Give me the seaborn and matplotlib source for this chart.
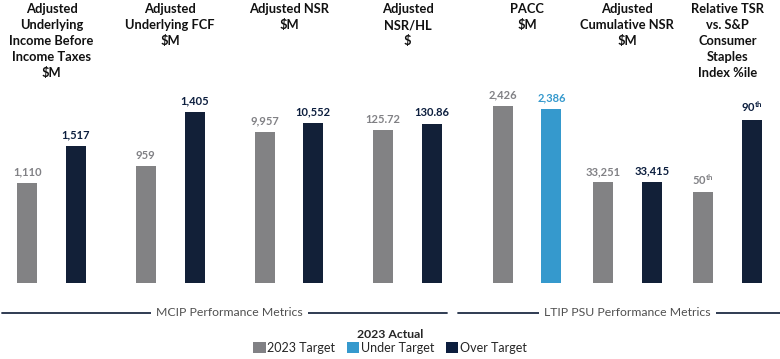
import pandas as pd
import matplotlib.pyplot as plt
import seaborn as sns
from matplotlib.patches import Patch

# chart data
metrics = [
    "Adjusted\nUnderlying\nIncome Before\nIncome Taxes\n\\$M",
    "Adjusted\nUnderlying FCF\n\\$M",
    "Adjusted NSR\n\\$M",
    "Adjusted\nNSR/HL\n\\$",
    "PACC\n\\$M",
    "Adjusted\nCumulative NSR\n\\$M",
    "Relative TSR\nvs. S&P\nConsumer\nStaples\nIndex %ile",
]
sections = ["MCIP", "MCIP", "MCIP", "MCIP", "LTIP", "LTIP", "LTIP"]
target_2023 = [1110, 959, 9957, 125.72, 2426, 33251, 50]
actual_2023 = [1517, 1405, 10552, 130.86, 2386, 33415, 90]
target_labels = ["1,110", "959", "9,957", "125.72", "2,426", "33,251", r"50$^{\mathbf{th}}$"]
actual_labels = ["1,517", "1,405", "10,552", "130.86", "2,386", "33,415", r"90$^{\mathbf{th}}$"]
section_names = {"MCIP": "MCIP Performance Metrics", "LTIP": "LTIP PSU Performance Metrics"}

# each metric is drawn on its own scale: pixel height of the taller bar
group_peak_px = [137, 171, 160, 159, 177, 101, 163]

GRAY = "#818185"
BLUE = "#3599cd"
NAVY = "#0c1e3e"
TEXT_GRAY = "#505050"

sns.set_style("white")
plt.rcParams["font.family"] = ["Lato", "DejaVu Sans"]
plt.rcParams["mathtext.fontset"] = "custom"
plt.rcParams["mathtext.rm"] = "Lato"
plt.rcParams["mathtext.bf"] = "Lato:bold"

rows = []
for i, m in enumerate(metrics):
    top = max(target_2023[i], actual_2023[i])
    status = "Under Target" if actual_2023[i] < target_2023[i] else "Over Target"
    for series, val, lab in [("Target", target_2023[i], target_labels[i]),
                             ("Actual", actual_2023[i], actual_labels[i])]:
        rows.append({"metric": m, "section": sections[i], "series": series,
                     "value": val, "label": lab, "status": status,
                     "height": val / top * group_peak_px[i]})
df = pd.DataFrame(rows)

W, H = 780, 359
fig = plt.figure(figsize=(W / 100, H / 100), dpi=100)
base_px = 283
# section layout: axes pixel span, first group center, group pitch
layout = {
    "MCIP": dict(left=2, right=447, first=51.5, pitch=118.7),
    "LTIP": dict(left=458, right=780, first=527, pitch=100.3),
}
bar_px, offset_px = 20, 48.7

for sec, lay in layout.items():
    ax = fig.add_axes([lay["left"] / W, (H - base_px) / H,
                       (lay["right"] - lay["left"]) / W, base_px / H])
    sub = df[df["section"] == sec]
    order = list(dict.fromkeys(sub["metric"]))
    pitch = lay["pitch"]
    w = 2 * offset_px / pitch
    gap = 1 - (bar_px / pitch) / (w / 2)
    sns.barplot(data=sub, x="metric", y="height", hue="series", order=order,
                hue_order=["Target", "Actual"], palette={"Target": GRAY, "Actual": NAVY},
                width=w, gap=gap, linewidth=0, legend=False, ax=ax)

    tgt = sub[sub["series"] == "Target"]
    act = sub[sub["series"] == "Actual"]
    ax.bar_label(ax.containers[0], labels=list(tgt["label"]), padding=4,
                 color=GRAY, fontsize=8, fontweight="bold")
    texts = ax.bar_label(ax.containers[1], labels=list(act["label"]), padding=4,
                         color=NAVY, fontsize=8, fontweight="bold")
    for bar, t, st in zip(ax.containers[1], texts, act["status"]):
        if st == "Under Target":
            bar.set_facecolor(BLUE)
            t.set_color(BLUE)

    for i, m in enumerate(order):
        ax.text(i, base_px - 3, m, ha="center", va="top", fontsize=9.3,
                fontweight="bold", color="#111111", linespacing=1.4)

    x0 = (lay["left"] - lay["first"]) / pitch
    x1 = (lay["right"] - lay["first"]) / pitch
    ax.set_xlim(x0, x1)
    ax.set_ylim(0, base_px)
    ax.plot([x0, x1], [-30, -30], color="#1f2c44", lw=1.3, clip_on=False)
    ax.text((len(order) - 1) / 2, -30, section_names[sec], ha="center", va="center",
            fontsize=8.8, color=TEXT_GRAY,
            bbox=dict(facecolor="white", edgecolor="none", pad=3.5))
    ax.set_axis_off()

handles = [Patch(facecolor=c, edgecolor="none") for c in (GRAY, BLUE, NAVY)]
fig.legend(handles, ["2023 Target", "Under Target", "Over Target"], title="2023 Actual",
           loc="lower center", bbox_to_anchor=(0.5, -0.01), ncol=3, frameon=False,
           fontsize=9, title_fontproperties={"weight": "bold", "size": 8.8},
           handlelength=1.0, handleheight=1.0, handletextpad=0.15, columnspacing=0.9,
           borderpad=0.2, labelspacing=0.15)

fig.savefig("out.png", dpi=100)
